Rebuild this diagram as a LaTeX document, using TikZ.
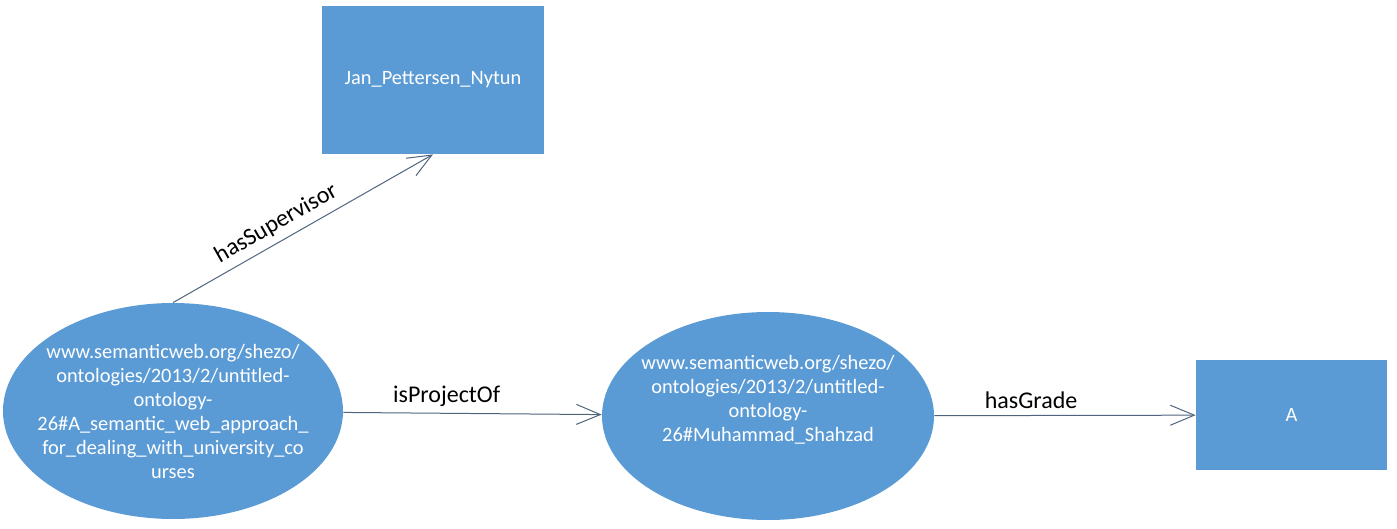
\documentclass[tikz,border=0pt]{standalone}
\usepackage{fontspec}
\setmainfont{Carlito}
\usetikzlibrary{shapes.geometric,arrows.meta}
\definecolor{boxblue}{RGB}{91,155,213}
\definecolor{linkgray}{RGB}{80,100,125}
\tikzset{
  resource/.style={ellipse,fill=boxblue,text=white,align=center,
    font=\fontsize{10.2}{12}\selectfont,inner xsep=-10pt,inner ysep=0pt},
  literal/.style={rectangle,fill=boxblue,text=white,
    font=\fontsize{10.2}{12}\selectfont},
  relation/.style={draw=linkgray,line width=0.5pt,
    -{Straight Barb[length=12pt,width=10pt]}},
  rellabel/.style={font=\fontsize{12}{14}\selectfont,text=black}
}
\begin{document}
\begin{tikzpicture}[x=0.5pt,y=-0.5pt]
    \useasboundingbox (0,0) rectangle (1397,529);
    \node[resource,minimum width=170pt,minimum height=108pt] (project) at (173,411)
        {www.semanticweb.org/shezo/\\ontologies/2013/2/untitled-\\ontology-\\26\#A\_semantic\_web\_approach\_\\for\_dealing\_with\_university\_co\\urses};
    \node[resource,minimum width=166pt,minimum height=104pt] (student) at (768,416)
        {www.semanticweb.org/shezo/\\ontologies/2013/2/untitled-\\ontology-\\26\#Muhammad\_Shahzad\\[6pt]};
    \node[literal,minimum width=111pt,minimum height=74pt] (supervisor) at (433,80) {Jan\_Pettersen\_Nytun};
    \node[literal,minimum width=95.5pt,minimum height=55pt] (grade) at (1291.5,415) {A};
    \draw[relation] (project.north) -- node[rellabel,sloped,above,pos=0.43] {hasSupervisor} (supervisor.south);
    \draw[relation] (project) -- node[rellabel,above,pos=0.4] {isProjectOf} (student);
    \draw[relation] (student) -- node[rellabel,above,pos=0.37] {hasGrade} (grade);
\end{tikzpicture}
\end{document}
